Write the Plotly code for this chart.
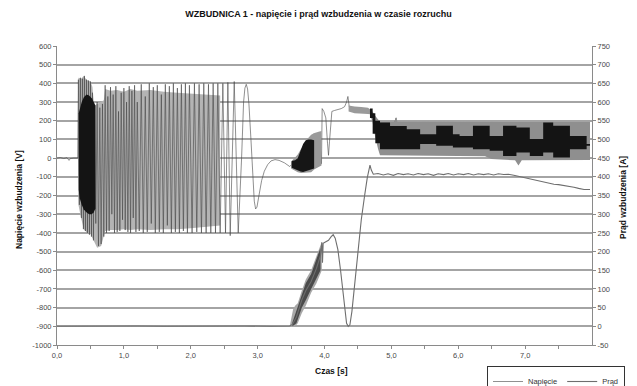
import plotly.graph_objects as go

# ---------------- data ----------------
# Napiecie wzbudzenia [V] (left axis): time [s] / value [V]
volt_t = [0.00, 0.05, 0.10, 0.15, 0.18, 0.20, 0.25, 0.31,
          0.320, 0.335, 0.350, 0.365, 0.380, 0.395, 0.410, 0.425, 0.440, 0.455, 0.470, 0.485, 0.500, 0.515, 0.530, 0.545,
          0.56, 0.58, 0.60, 0.62, 0.64, 0.66, 0.68, 0.70, 0.72, 0.74, 0.76, 0.78, 0.80, 0.82, 0.84, 0.86, 0.88,
          0.90, 0.92, 0.94, 0.96, 0.98, 1.00, 1.02, 1.04, 1.06, 1.08, 1.10, 1.12, 1.14, 1.16, 1.18, 1.20,
          1.23, 1.26, 1.29, 1.32, 1.35, 1.38, 1.41, 1.44, 1.47, 1.50, 1.53, 1.56, 1.59, 1.62, 1.65, 1.68,
          1.71, 1.74, 1.77, 1.80, 1.83, 1.86, 1.89, 1.92, 1.95, 1.98,
          2.02, 2.055, 2.09, 2.125, 2.16, 2.195, 2.23, 2.265, 2.30, 2.335, 2.37, 2.405, 2.44,
          2.48, 2.52, 2.555, 2.59, 2.65, 2.71, 2.76, 2.79, 2.81, 2.83, 2.85, 2.87, 2.90, 2.93, 2.95, 2.97,
          2.99, 3.02, 3.06, 3.10, 3.15, 3.20, 3.26, 3.32, 3.40, 3.48,
          3.52, 3.56, 3.60, 3.64, 3.68, 3.72, 3.76, 3.80, 3.84, 3.88, 3.92, 3.955,
          3.965, 3.99, 4.02, 4.045, 4.06, 4.075, 4.095, 4.11, 4.15, 4.20, 4.25, 4.30, 4.33, 4.35, 4.37,
          4.45, 4.55, 4.65, 4.68, 4.72, 4.76, 4.80,
          4.85, 4.95, 5.07, 5.10, 5.30, 5.50, 5.80, 6.00, 6.30, 6.60, 6.80, 7.00, 7.30, 7.60, 7.80, 7.97]
volt_v = [0, 3, -2, 2, -12, -2, 0, 0,
          420, -250, 430, -320, 425, -380, 440, -390, 420, -400, 415, -410, 410, -420, 350, -440,
          280, -350, 300, -470, 270, -460, 290, -420, 390, -400, 330, -390, 380, -300, 340, -400, 385,
          -395, 250, -390, 350, -330, 375, -385, 300, -395, 385, -400, 360, -320, 390, -395, 300,
          -390, 395, -400, 330, -395, 400, -350, 380, -400, 390, -395, 340, -400, 395, -360, 385,
          -400, 400, -395, 375, -400, 395, -390, 400, -400, 390,
          -400, 400, -395, 395, -400, 400, -400, 395, -400, 400, -400, 400, -400,
          400, -400, 405, -415, 410, -400, 0, 300, 375, 395, 370, 290, 100, -120, -230, -272,
          -262, -200, -120, -70, -35, -15, -8, -12, -25, -45,
          -30, -55, -5, -65, 60, -70, 100, -70, 130, -40, 140, -30,
          265, 250, 215, 80, 15, 90, 220, 250, 255, 258, 265, 275, 300, 330, 275,
          268, 264, 260, 250, 230, 160, 100,
          150, 60, 215, 80, 120, 90, 140, 80, 120, 60, 100, 50, 140, 60, 90, 70]

# dense start-up oscillation: outer envelope and dark core [V]
env_t = [0.315, 0.32, 0.36, 0.40, 0.44, 0.50, 0.53, 0.555, 0.60, 0.66, 0.70, 0.72, 0.80, 0.90,
         1.00, 1.10, 1.20, 1.40, 1.60, 1.80, 2.00, 2.20, 2.44]
env_up = [0, 430, 425, 440, 420, 410, 380, 280, 290, 300, 310, 370, 360, 365,
          355, 370, 360, 365, 355, 350, 345, 340, 335]
env_lo = [0, -250, -320, -380, -395, -405, -430, -450, -480, -470, -420, -390, -385, -385,
          -380, -385, -380, -385, -380, -380, -375, -370, -360]
core_t = [0.325, 0.34, 0.37, 0.40, 0.44, 0.48, 0.52, 0.55, 0.575]
core_up = [240, 265, 300, 325, 340, 335, 320, 300, 280]
core_lo = [-170, -215, -250, -275, -290, -300, -300, -290, -270]

# ripple bands after excitation [V]
b1_t = [3.50, 3.55, 3.60, 3.65, 3.70, 3.75, 3.80, 3.85, 3.90, 3.955]
b1_up = [-20, 0, 20, 50, 80, 105, 125, 135, 140, 145]
b1_lo = [-55, -65, -75, -80, -80, -78, -75, -60, -50, -40]
b1c_t = [3.51, 3.56, 3.60, 3.64, 3.68, 3.72, 3.76, 3.80, 3.845]
b1c_up = [-15, -12, 0, 40, 75, 95, 100, 100, 95]
b1c_lo = [-52, -60, -65, -72, -74, -70, -65, -60, -55]
b2_t = [4.36, 4.45, 4.55, 4.65, 4.68]
b2_up = [282, 276, 274, 270, 262]
b2_lo = [250, 240, 238, 236, 235]
b3_t = [4.68, 4.72, 4.76, 4.80, 4.83, 5.05, 5.07, 5.09, 5.50, 6.00, 6.40, 6.50, 6.85, 6.90, 6.95, 7.50, 7.97]
b3_up = [262, 248, 225, 205, 195, 195, 220, 195, 195, 195, 195, 195, 193, 193, 193, 193, 193]
b3_lo = [235, 190, 110, 50, 15, 12, 12, 12, 12, 12, 10, -5, -12, -40, -12, -12, -10]
step_t = [4.68, 4.72, 4.76, 4.83, 4.98, 5.23, 5.43, 5.67, 5.92, 6.02, 6.22, 6.47, 6.67, 6.87,
          7.07, 7.27, 7.42, 7.67, 7.92, 7.97]
step_up = [265, 240, 200, 190, 172, 155, 128, 173, 128, 119, 173, 119, 173, 164, 102, 190, 173, 119, 75]
step_lo = [215, 130, 80, 48, 48, 48, 75, 66, 57, 57, 48, 39, 12, 30, 12, 30, 3, 48, 66]

# Prad wzbudzenia [A] (right axis)
cur_t = [0.0, 0.4, 0.8, 1.2, 1.6, 2.0, 2.4, 2.8, 3.2, 3.48,
         3.52, 3.58, 3.66, 3.72, 3.80, 3.88, 3.94, 3.96, 3.97, 3.98, 4.00, 4.06, 4.10, 4.13,
         4.16, 4.20, 4.24, 4.28, 4.31, 4.33, 4.355, 4.38, 4.41, 4.45, 4.50, 4.55, 4.60, 4.64, 4.68, 4.70,
         4.73, 4.80, 4.88, 4.95, 5.03, 5.10, 5.18, 5.25, 5.33, 5.40, 5.48, 5.55, 5.63, 5.70, 5.78,
         5.85, 5.93, 6.00, 6.08, 6.15, 6.23, 6.30, 6.38, 6.45, 6.53, 6.60, 6.68, 6.75, 6.83, 6.90,
         6.98, 7.05, 7.13, 7.20, 7.28, 7.35, 7.43, 7.50, 7.58, 7.65, 7.73, 7.80, 7.88, 7.97]
cur_a = [0, 1, 0, 1, 0, 1, 0, 1, 0, 1,
         5, 25, 70, 95, 120, 155, 190, 225, 170, 222, 224, 230, 240, 245,
         236, 205, 150, 80, 30, 8, 0, 4, 40, 110, 200, 285, 350, 398, 431, 418,
         407, 409, 405, 408, 404, 409, 406, 408, 405, 409, 406, 408, 404, 408, 406,
         409, 405, 408, 406, 409, 405, 408, 406, 408, 405, 408, 406, 407, 404, 401,
         398, 396, 392, 389, 386, 383, 380, 379, 377, 376, 372, 369, 366, 366]
cb_t = [3.48, 3.50, 3.53, 3.56, 3.60, 3.66, 3.72, 3.80, 3.88, 3.94, 3.96]
cb_up = [0, 20, 45, 55, 62, 95, 125, 150, 190, 218, 226]
cb_lo = [0, 0, 0, 0, 8, 35, 55, 90, 115, 140, 150]
cc_t = [3.52, 3.58, 3.66, 3.72, 3.80, 3.88, 3.94]
cc_up = [10, 40, 85, 115, 140, 180, 210]
cc_lo = [0, 8, 50, 70, 100, 130, 150]

# ticks
x_tickvals = [0, 0.5, 1, 1.5, 2, 2.5, 3, 3.5, 4, 4.5, 5, 5.5, 6, 6.5, 7, 7.5]
x_ticktext = ["0,0", "", "1,0", "", "2,0", "", "3,0", "", "4,0", "", "5,0", "", "6,0", "", "7,0", ""]
y_tickvals = [-1000, -900, -800, -700, -600, -500, -400, -300, -200, -100, 0, 100, 200, 300, 400, 500, 600]
y_ticktext = ["-1000", "-900", "-800", "-700", "-600", "-500", "-400", "-300", "-200", "-100",
              "0", "100", "200", "300", "400", "500", "600"]
y2_tickvals = [-50, 0, 50, 100, 150, 200, 250, 300, 350, 400, 450, 500, 550, 600, 650, 700, 750]
y2_ticktext = ["-50", "0", "50", "100", "150", "200", "250", "300", "350", "400", "450",
               "500", "550", "600", "650", "700", "750"]


# ---------------- helpers ----------------
def band(t, up, lo):
    return list(t) + list(t)[::-1], list(up) + list(lo)[::-1]


def step_band(edges, up, lo):
    xu, yu, xl, yl = [], [], [], []
    for i in range(len(up)):
        xu += [edges[i], edges[i + 1]]
        yu += [up[i], up[i]]
        xl += [edges[i], edges[i + 1]]
        yl += [lo[i], lo[i]]
    return xu + xl[::-1], yu + yl[::-1]


def fill_trace(xy, color, yaxis="y"):
    x, y = xy
    return go.Scatter(x=x, y=y, mode="lines", fill="toself", fillcolor=color,
                      line=dict(width=0, color=color), showlegend=False,
                      hoverinfo="skip", yaxis=yaxis)


FONT = "Liberation Sans, Arial, sans-serif"
V_COLOR = "#454545"
A_COLOR = "#6e6e6e"

fig = go.Figure()
fig.add_trace(fill_trace(band(env_t, env_up, env_lo), "#b4b4b4"))
fig.add_trace(go.Scatter(x=volt_t, y=volt_v, mode="lines", name="Napięcie",
                         line=dict(color=V_COLOR, width=0.6)))
fig.add_trace(fill_trace(band(core_t, core_up, core_lo), "#141414"))
fig.add_trace(fill_trace(band(b1_t, b1_up, b1_lo), "#9a9a9a"))
fig.add_trace(fill_trace(band(b1c_t, b1c_up, b1c_lo), "#161616"))
fig.add_trace(fill_trace(band(b2_t, b2_up, b2_lo), "#9a9a9a"))
fig.add_trace(fill_trace(band(b3_t, b3_up, b3_lo), "#8f8f8f"))
fig.add_trace(fill_trace(step_band(step_t, step_up, step_lo), "#141414"))
fig.add_trace(fill_trace(band(cb_t, cb_up, cb_lo), "#a8a8a8", "y2"))
fig.add_trace(fill_trace(band(cc_t, cc_up, cc_lo), "#4a4a4a", "y2"))
fig.add_trace(go.Scatter(x=cur_t, y=cur_a, mode="lines", name="Prąd", yaxis="y2",
                         line=dict(color=A_COLOR, width=1.1)))

axis_font = dict(family=FONT, size=7.5, color="#4a4a4a")
fig.update_layout(
    width=637, height=386,
    margin=dict(l=57, r=45, t=46, b=41, autoexpand=False),
    paper_bgcolor="white", plot_bgcolor="white",
    font=dict(family=FONT, color="#222"),
    title=dict(text="<b>WZBUDNICA 1 - napięcie i prąd wzbudzenia w czasie rozruchu</b>",
               x=0.5, xanchor="center", y=1 - 14 / 386, yanchor="middle", yref="container",
               font=dict(family=FONT, size=9, color="#111")),
    xaxis=dict(range=[0, 8], tickvals=x_tickvals, ticktext=x_ticktext, showgrid=False,
               zeroline=False, showline=True, linecolor="#8a8a8a", linewidth=1,
               ticks="outside", ticklen=3, tickcolor="#8a8a8a", tickfont=axis_font),
    yaxis=dict(range=[-1000, 600], tickvals=y_tickvals, ticktext=y_ticktext, showgrid=True,
               gridcolor="#a4a4a4", gridwidth=1.5, zeroline=False, showline=True,
               linecolor="#8a8a8a", linewidth=1, ticks="outside", ticklen=3,
               tickcolor="#8a8a8a", tickfont=axis_font),
    yaxis2=dict(range=[-50, 750], tickvals=y2_tickvals, ticktext=y2_ticktext, overlaying="y",
                side="right", showgrid=False, zeroline=False, showline=True,
                linecolor="#8a8a8a", linewidth=1, ticks="outside", ticklen=3,
                tickcolor="#8a8a8a", tickfont=axis_font),
    legend=dict(orientation="h", xref="container", yref="container",
                x=625 / 637, xanchor="right", y=1 - 366 / 386, yanchor="top",
                bordercolor="#333", borderwidth=1, bgcolor="white",
                font=dict(family=FONT, size=7.5, color="#333"), traceorder="normal"),
    annotations=[
        dict(text="<b>Napięcie wzbudzenia [V]</b>", xref="paper", yref="paper",
             x=(19 - 57) / 535, y=(345 - 200) / 299, textangle=-90, showarrow=False,
             font=dict(family=FONT, size=8.5, color="#111"), xanchor="center", yanchor="middle"),
        dict(text="<b>Prąd wzbudzenia [A]</b>", xref="paper", yref="paper",
             x=(623 - 57) / 535, y=(345 - 198) / 299, textangle=-90, showarrow=False,
             font=dict(family=FONT, size=8.5, color="#111"), xanchor="center", yanchor="middle"),
        dict(text="<b>Czas [s]</b>", xref="paper", yref="paper",
             x=(331 - 57) / 535, y=(345 - 371) / 299, showarrow=False,
             font=dict(family=FONT, size=8.5, color="#111"), xanchor="center", yanchor="middle"),
    ],
)

fig.write_html("out.html", config={"displayModeBar": False},
               post_script="document.body.style.margin='0';document.body.style.overflow='hidden';")
